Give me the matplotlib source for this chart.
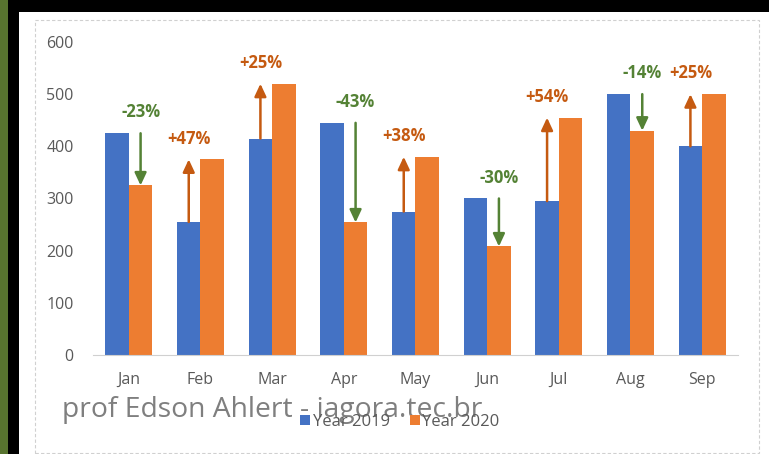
import matplotlib
matplotlib.use("Agg")
import matplotlib.pyplot as plt
from matplotlib.patches import Rectangle
import numpy as np

months = ["Jan", "Feb", "Mar", "Apr", "May", "Jun", "Jul", "Aug", "Sep"]
year_2019 = [425, 255, 415, 445, 275, 300, 295, 500, 400]
year_2020 = [325, 375, 520, 254, 380, 208, 455, 430, 500]
pct_labels = ["-23%", "+47%", "+25%", "-43%", "+38%", "-30%", "+54%", "-14%", "+25%"]

BLUE = "#4472C4"
ORANGE = "#ED7D31"
UP = "#C55A11"
DOWN = "#548235"
GRAY = "#595959"
FONT = "Open Sans"

W, H = 769, 454
fig = plt.figure(figsize=(W / 100, H / 100), dpi=100)
fig.patch.set_facecolor("black")

def px_rect(x0, y0, x1, y1, **kw):
    # rectangle given in pixel coords measured from the top-left corner
    return Rectangle((x0 / W, 1 - y1 / H), (x1 - x0) / W, (y1 - y0) / H,
                     transform=fig.transFigure, zorder=-5, **kw)

fig.patches.append(px_rect(0, 0, 8, H, facecolor="#58742f", edgecolor="none"))
fig.patches.append(px_rect(19, 12, W, H, facecolor="white", edgecolor="none"))
fig.patches.append(px_rect(35, 20, 759, 453, facecolor="none", edgecolor="#d0d0d0",
                           linestyle=(0, (3, 2)), linewidth=0.8))

ax = fig.add_axes([93 / W, 1 - 355 / H, (738 - 93) / W, (355 - 42) / H])
ax.set_facecolor("none")

x = np.arange(len(months))
bw = 0.328
ax.bar(x - bw / 2, year_2019, bw, color=BLUE, label="Year 2019")
ax.bar(x + bw / 2, year_2020, bw, color=ORANGE, label="Year 2020")

for i, (a, b, lab) in enumerate(zip(year_2019, year_2020, pct_labels)):
    if b < a:
        xa, col = x[i] + bw / 2, DOWN
    else:
        xa, col = x[i] - bw / 2, UP
    ax.annotate("", xy=(xa, b), xytext=(xa, a),
                arrowprops=dict(arrowstyle="-|>,head_width=0.35,head_length=0.75",
                                color=col, lw=1.8, shrinkA=0, shrinkB=0))
    ax.text(xa, max(a, b) + 40, lab, color=col, fontsize=12, fontweight="bold",
            family=FONT, ha="center", va="center")

ax.set_xlim(-0.5, len(months) - 0.5)
ax.set_ylim(0, 600)
ax.set_yticks(range(0, 601, 100))
ax.set_xticks(x)
ax.set_xticklabels(months)
ax.tick_params(axis="both", length=0, colors=GRAY, labelsize=11.5)
ax.tick_params(axis="y", pad=14)
ax.tick_params(axis="x", pad=12)
for lbl in ax.get_xticklabels() + ax.get_yticklabels():
    lbl.set_family(FONT)
for s in ["left", "right", "top"]:
    ax.spines[s].set_visible(False)
ax.spines["bottom"].set_color("#d0d0d0")
ax.spines["bottom"].set_linewidth(0.8)

leg = fig.legend(loc="center", bbox_to_anchor=(400 / W, 1 - 422 / H), ncol=2,
                 frameon=False, handlelength=0.6, handleheight=0.6,
                 handletextpad=0.15, columnspacing=1.2, prop={"family": FONT, "size": 12})
for t in leg.get_texts():
    t.set_color(GRAY)

fig.text(62 / W, 1 - 410 / H, "prof Edson Ahlert - iagora.tec.br", color="#7f7f7f",
         fontsize=20.3, family="Open Sans", ha="left", va="center")

fig.savefig("out.png", dpi=100, facecolor=fig.get_facecolor())
